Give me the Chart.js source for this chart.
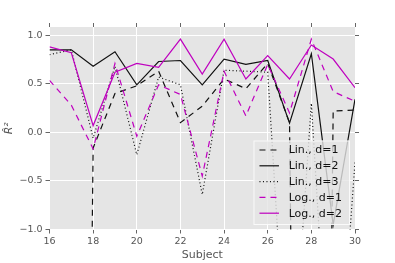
<!DOCTYPE html>
<html>
<head>
<meta charset="utf-8">
<script src="https://cdn.jsdelivr.net/npm/chart.js@4.4.0/dist/chart.umd.min.js"></script>
<style>
  html, body { margin: 0; padding: 0; background: #fff; }
  #wrap { width: 395px; height: 263px; }
</style>
</head>
<body>
<div id="wrap"><canvas id="chart" width="395" height="263"></canvas></div>
<script>
// subjects on the x axis
const subjects = [16, 17, 18, 19, 20, 21, 22, 23, 24, 25, 26, 27, 28, 29, 30];

// R^2 per subject (values far below -1 run off the bottom of the plot)
const linD1 = [-20, -20, -0.16, 0.40, 0.48, 0.63, 0.10, 0.27, 0.55, 0.45, 0.71, 0.10, -20, 0.22, 0.23];
const linD2 = [0.85, 0.85, 0.68, 0.83, 0.49, 0.73, 0.74, 0.49, 0.755, 0.70, 0.74, 0.095, 0.81, -0.95, 0.34];
const linD3 = [0.80, 0.85, -0.06, 0.68, -0.23, 0.57, 0.49, -0.64, 0.64, 0.63, 0.62, -3, 0.30, -3.4, -0.31];
const logD1 = [0.535, 0.28, -0.17, 0.71, -0.04, 0.49, 0.39, -0.45, 0.63, 0.17, 0.70, 0.20, 0.96, 0.42, 0.32];
const logD2 = [0.88, 0.82, 0.07, 0.62, 0.71, 0.67, 0.96, 0.60, 0.96, 0.55, 0.79, 0.55, 0.90, 0.755, 0.46];

const xTicks = [16, 18, 20, 22, 24, 26, 28, 30];
const yTicks = [-1.0, -0.5, 0.0, 0.5, 1.0];

const FONT = '"DejaVu Sans", "Liberation Sans", sans-serif';
const MAGENTA = '#bf00bf';

function pts(vals) {
  return subjects.map((s, i) => ({ x: s, y: vals[i] }));
}

function line(label, vals, color, dash, order) {
  return {
    label: label,
    data: pts(vals),
    borderColor: color,
    backgroundColor: color,
    borderWidth: 1.2,
    borderDash: dash,
    pointRadius: 0,
    tension: 0,
    fill: false,
    order: order
  };
}

// gray panel behind the lines
const panelBg = {
  id: 'panelBg',
  beforeDraw(chart) {
    const { ctx, chartArea: a } = chart;
    ctx.save();
    ctx.fillStyle = '#e5e5e5';
    ctx.fillRect(a.left, a.top, a.right - a.left, a.bottom - a.top);
    ctx.restore();
  }
};

// matplotlib-like legend box in the lower right corner of the panel
const boxLegend = {
  id: 'boxLegend',
  afterDatasetsDraw(chart) {
    const { ctx, chartArea: a } = chart;
    const sets = chart.data.datasets;
    ctx.save();
    ctx.font = '11px ' + FONT;
    const textW = Math.max(...sets.map(d => ctx.measureText(d.label).width));
    const padL = 6, handle = 19.5, gap = 9.7, padR = 8, rowH = 15.8;
    const w = padL + handle + gap + textW + padR;
    const h = 84.5;
    const right = a.right - 5, bottom = a.bottom - 4.5;
    const left = right - w, top = bottom - h;

    ctx.fillStyle = 'rgba(229,229,229,0.8)';
    ctx.fillRect(left, top, w, h);
    ctx.strokeStyle = 'rgba(255,255,255,0.8)';
    ctx.lineWidth = 1;
    ctx.strokeRect(left + 0.5, top + 0.5, w - 1, h - 1);

    sets.forEach((d, i) => {
      const y = top + 9.5 + i * rowH;
      ctx.beginPath();
      ctx.setLineDash(d.borderDash || []);
      ctx.strokeStyle = d.borderColor;
      ctx.lineWidth = d.borderWidth;
      ctx.moveTo(left + padL, y);
      ctx.lineTo(left + padL + handle, y);
      ctx.stroke();
      ctx.setLineDash([]);
      ctx.fillStyle = '#111';
      ctx.textBaseline = 'middle';
      ctx.textAlign = 'left';
      ctx.fillText(d.label, left + padL + handle + gap, y + 0.5);
    });
    ctx.restore();
  }
};

const tickGrid = { color: '#ffffff', lineWidth: 1, tickColor: '#666', tickLength: 4, drawTicks: true };

new Chart(document.getElementById('chart').getContext('2d'), {
  type: 'line',
  data: {
    datasets: [
      line('Lin., d=1', linD1, '#111', [6, 5], 4),
      line('Lin., d=2', linD2, '#111', [], 3),
      line('Lin., d=3', linD3, '#111', [1, 2.5], 2),
      line('Log., d=1', logD1, MAGENTA, [6, 5], 1),
      line('Log., d=2', logD2, MAGENTA, [], 0)
    ]
  },
  options: {
    responsive: false,
    animation: false,
    devicePixelRatio: 1,
    events: [],
    layout: { padding: 0 },
    plugins: { legend: { display: false }, tooltip: { enabled: false } },
    scales: {
      x: {
        type: 'linear', position: 'bottom', min: 16, max: 30,
        afterBuildTicks: s => { s.ticks = xTicks.map(v => ({ value: v })); },
        afterFit: s => { s.height = 33.5; },
        grid: tickGrid,
        border: { display: false },
        ticks: { color: '#555', font: { family: FONT, size: 9.5 }, padding: 2.5, maxRotation: 0, autoSkip: false,
                 callback: v => String(v) },
        title: { display: true, text: 'Subject', color: '#555', font: { family: FONT, size: 11 }, padding: { top: 0, bottom: 1.5 } }
      },
      x2: {
        type: 'linear', position: 'top', min: 16, max: 30,
        afterBuildTicks: s => { s.ticks = xTicks.map(v => ({ value: v })); },
        afterFit: s => { s.height = 27; },
        grid: { drawOnChartArea: false, tickColor: '#666', tickLength: 4 },
        border: { display: false },
        ticks: { display: false }
      },
      y: {
        type: 'linear', position: 'left', min: -1, max: 1.085,
        afterBuildTicks: s => { s.ticks = yTicks.map(v => ({ value: v })); },
        afterFit: s => { s.width = 49.5; },
        grid: tickGrid,
        border: { display: false },
        ticks: { color: '#555', font: { family: FONT, size: 9.5 }, padding: 3,
                 callback: v => v.toFixed(1).replace('-', '\u2212') },
        title: { display: true, text: 'R\u0302\u00B2', color: '#555', font: { family: FONT, size: 11, style: 'italic' }, padding: { top: 3, bottom: 0 } }
      },
      y2: {
        type: 'linear', position: 'right', min: -1, max: 1.085,
        afterBuildTicks: s => { s.ticks = yTicks.map(v => ({ value: v })); },
        afterFit: s => { s.width = 40; },
        grid: { drawOnChartArea: false, tickColor: '#666', tickLength: 4 },
        border: { display: false },
        ticks: { display: false }
      }
    }
  },
  plugins: [panelBg, boxLegend]
});
</script>
</body>
</html>
